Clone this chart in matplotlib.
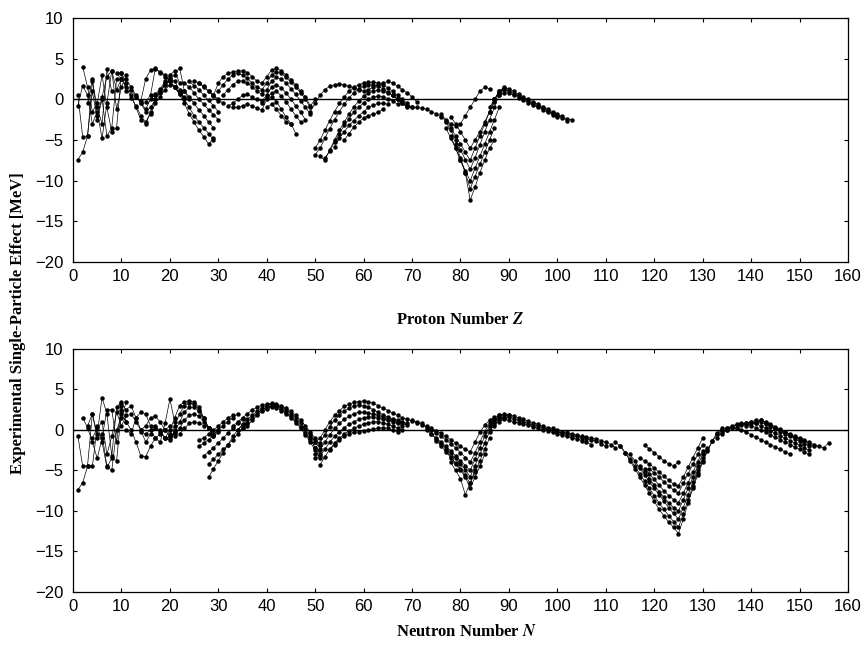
#!/usr/bin/env python
# -*- coding: utf-8 -*-

# Experimental single-particle effect vs proton and neutron number
import matplotlib
matplotlib.use("Agg")
import matplotlib.pyplot as plt
import numpy as N

# Each chain: (first nucleon number, values in MeV at consecutive numbers)

# ---- proton number Z ----
z_light = [
    (1, [0.5, -4.6, -4.5, 2.2, -1.0, -3.0, 3.7, 1.0]),
    (1, [-7.4, -6.5, -4.5, 1.0, -2.5, 0.0, -4.5, -3.5, 2.5]),
    (2, [4.0, 1.5, -1.5, -0.5, 3.0, -1.0, -4.0, -3.5, 3.2, 1.0]),
    (1, [-0.8, 1.7, 0.5, -3.0, -1.5, -4.8, -0.5, 3.5, 1.2, 2.5]),
    (3, [-0.5, 2.5, -2.0, 0.3, 2.8, 3.5, -1.2, 1.5, 3.0]),
]
z_sd = [
    (10, [3.3, 2.0, 0.5, -1.0, -2.5, -3.0, -1.5, 0.0, 1.0, 2.0, 2.2, 1.5, 0.8]),
    (9, [3.2, 2.5, 1.5, 0.2, -0.8, -2.0, -2.8, -1.8, -0.5, 0.3, 1.2, 1.8, 1.5, 0.8]),
    (11, [2.5, 1.5, 0.5, -0.5, -1.5, -1.0, 0.0, 0.8, 1.8, 2.6, 2.2, 1.2]),
    (12, [1.2, 0.3, -0.4, -1.2, 0.0, 0.6, 1.3, 2.2, 3.0, 3.5, 2.0]),
    (15, [-0.3, 0.5, 3.8, 3.3, 2.8, 2.2, 1.5, 0.8, 0.3]),
    (13, [0.3, -0.2, 2.5, 3.6, 3.7, 3.4, 3.0, 2.3, 1.5, 0.7, 0.2]),
    (17, [0.5, 1.0, 1.8, 2.5, 3.0, 3.9, 1.0, 0.0]),
]
z_fp = [
    (21, [1.5, 0.6, -0.5, -1.8, -2.8, -3.8, -4.6, -5.5, -4.8]),
    (22, [1.0, 0.0, -1.0, -2.0, -2.8, -3.5, -4.2, -5.0]),
    (23, [1.0, 0.3, -0.5, -1.3, -2.0, -2.8, -3.5]),
    (23, [2.0, 1.5, 0.8, 0.0, -0.6, -1.3, -1.9, -2.5]),
    (24, [2.2, 1.7, 1.2, 0.5, -0.1, -0.8, -1.5]),
    (25, [2.3, 2.0, 1.5, 1.0, 0.4, -0.2]),
    (26, [2.0, 1.6, 1.0, 0.5, 0.0, -0.5]),
]
z_mid = [
    (29, [0.5, 2.0, 2.8, 3.2, 3.4, 3.5, 3.5, 3.3, 2.8, 2.2, 2.0, 2.8, 3.6,
          3.8, 3.5, 3.0, 2.4, 1.8, 1.0, 0.3, -0.8, 0.0]),
    (30, [1.0, 1.8, 2.5, 3.0, 3.2, 3.0, 2.6, 2.0, 1.5, 1.2, 2.0, 3.0, 3.4,
          3.2, 2.7, 2.1, 1.5, 0.8, 0.0, -1.0]),
    (31, [0.5, 1.2, 1.8, 2.2, 2.3, 2.0, 1.5, 1.0, 0.6, 1.2, 2.2, 2.7, 2.5,
          2.0, 1.3, 0.6, -0.2, -1.0, -1.8]),
    (32, [-0.8, -0.5, 0.0, 0.5, 0.6, 0.3, 0.0, -0.2, 0.5, 1.5, 1.8, 1.4, 0.8,
          0.0, -0.8, -1.6, -2.5]),
    (33, [-1.0, -1.0, -0.8, -0.6, -0.8, -1.1, -1.3, 0.0, 0.8, 1.0, 0.4, -0.3,
          -1.2, -2.0, -2.8]),
    (39, [-0.5, 0.2, 0.3, -0.3, -1.2, -2.2, -3.0, -4.2]),
    (40, [-1.0, -0.6, -1.2, -2.0, -2.8, -3.0]),
]
z_sn = [
    (50, [-6.0, -5.0, -3.8, -2.6, -1.5, -0.5, 0.3, 1.0, 1.5, 1.8, 2.0, 2.1,
          2.1, 2.0, 1.8, 1.4, 1.0, 0.5, 0.0, -0.5, -1.0]),
    (50, [-6.8, -6.0, -4.8, -3.6, -2.5, -1.5, -0.6, 0.2, 0.8, 1.3, 1.6, 1.8,
          1.8, 1.6, 1.3, 0.9, 0.5, 0.0, -0.5, -1.0]),
    (51, [-7.0, -7.5, -6.2, -5.0, -3.8, -2.8, -1.8, -0.9, -0.2, 0.4, 0.8, 1.0,
          1.1, 1.0, 0.8, 0.5, 0.1, -0.3, -0.8]),
    (52, [-7.2, -6.4, -5.2, -4.2, -3.2, -2.4, -1.6, -1.0, -0.4, 0.0, 0.3, 0.4,
          0.3, 0.1, -0.2, -0.6]),
    (54, [-5.8, -4.8, -4.0, -3.2, -2.6, -2.0, -1.5, -1.0, -0.7, -0.5, -0.5, -0.6]),
    (49, [-1.5, -0.5, 0.5, 1.2, 1.6, 1.8, 1.9, 1.8, 1.6, 1.4, 1.2, 1.0, 1.2,
          1.5, 1.8, 2.0, 2.2, 2.0, 1.6, 1.2, 0.8, 0.3, -0.3]),
    (56, [-5.0, -4.2, -3.4, -2.8, -2.3, -2.0, -1.8, -1.6, -1.2]),
]
z_pb = [
    (66, [0.5, 0.0, -0.5, -0.8, -1.0, -1.0, -1.1, -1.2, -1.5, -1.8, -2.2, -2.6,
          -3.0, -3.3, -3.0, -2.0, -1.0, 0.0, 1.0, 1.5, 1.3]),
    (76, [-1.8, -2.5, -3.5, -4.5, -5.5, -6.5, -7.5, -6.0, -4.5, -3.0, -1.5, 0.0, 1.0, 1.3]),
    (77, [-2.8, -3.8, -5.0, -6.2, -7.4, -8.6, -7.2, -5.6, -4.0, -2.5, -1.0, 0.5]),
    (77, [-3.5, -4.8, -6.0, -7.5, -8.8, -10.0, -8.5, -7.0, -5.5, -4.0, -2.5, -1.0]),
    (78, [-4.5, -6.0, -7.5, -9.0, -11.0, -9.5, -8.0, -6.5, -5.0, -3.5]),
    (79, [-5.5, -7.2, -9.0, -12.4, -10.8, -9.0, -7.5, -6.0, -5.0]),
    (78, [-2.2, -3.0, -4.0, -5.0, -6.0, -5.0, -4.0, -2.8, -1.5, -0.3, 0.8, 1.4]),
]
z_heavy = [
    (86, [-1.0, 0.0, 1.0, 1.5, 1.3, 1.0, 0.6, 0.3, 0.0, -0.3, -0.6, -0.9,
          -1.2, -1.5, -1.8, -2.1, -2.4, -2.5]),
    (87, [0.0, 0.8, 1.2, 1.0, 0.7, 0.4, 0.1, -0.2, -0.5, -0.8, -1.1, -1.4,
          -1.7, -2.0, -2.3, -2.6]),
    (88, [0.5, 0.8, 0.8, 0.5, 0.2, -0.1, -0.4, -0.7, -1.0, -1.3, -1.6, -1.9, -2.2]),
]

# ---- neutron number N ----
n_light = [
    (1, [-7.4, -6.5, -4.5, -4.5, 0.5, -1.5, -4.6, -3.5, -3.8, 2.5]),
    (1, [-0.7, -4.5, -4.4, 2.0, -0.5, 4.0, 2.0, -3.2, 2.8, 3.5]),
    (2, [1.5, 0.3, -1.5, -3.5, -1.0, 2.5, 2.5, -1.5, 3.0, 1.0]),
    (3, [0.5, 2.0, -1.0, -0.5, -4.5, -5.0, 0.0, 1.5, 3.5]),
    (4, [-1.0, 0.2, 1.0, -3.0, -0.8, 2.2, 0.5, 1.8]),
]
n_sd = [
    (10, [2.0, 1.0, 0.0, -1.5, -3.2, -3.3, -2.0, -1.0, -0.5, 0.0, 0.5]),
    (10, [3.2, 2.5, 3.0, 1.5, 0.0, -1.5, -0.5, 0.3, 0.0, -1.0, -0.8]),
    (11, [0.0, -0.5, 1.5, 2.2, 2.0, 0.5, 0.5, -0.3, -1.0, -1.2, 0.0]),
    (12, [2.0, 1.0, 0.0, 0.5, 1.5, 1.7, 1.0, 0.0, -0.8, -0.5]),
    (14, [-0.3, -0.5, 0.0, -1.0, -1.5, 0.8, 3.8, 1.0]),
]
n_fp = [
    (19, [-1.0, 0.0, 1.5, 3.0, 3.5, 3.6, 3.5, 2.8, 1.5, 0.2, -0.5, 0.0]),
    (20, [-0.5, 0.5, 2.0, 3.0, 3.3, 3.2, 2.5, 1.5, 0.2, -0.8, -0.3]),
    (20, [-1.0, -0.3, 1.0, 2.2, 2.8, 2.8, 2.3, 1.4, 0.3, -0.8]),
    (21, [-0.8, 0.2, 1.2, 1.8, 2.0, 1.7, 1.0, 0.2]),
    (22, [-0.5, 0.2, 0.8, 1.0, 0.9, 0.5]),
    (26, [-1.2, -1.0, -0.5, 0.0, 0.5, 1.0, 1.5, 1.8]),
    (26, [-2.0, -1.6, -1.2, -0.6, 0.0, 0.5, 1.0, 1.5, 2.0]),
    (27, [-3.2, -2.7, -2.2, -1.6, -1.0, -0.4, 0.2, 0.8, 1.3]),
    (28, [-4.2, -3.6, -3.0, -2.4, -1.8, -1.2, -0.5, 0.2, 0.8]),
    (28, [-5.8, -4.8, -3.8, -2.8, -1.8, -0.8, 0.0, 0.6]),
]
n_mid = [
    (33, [0.5, 1.0, 1.5, 2.0, 2.5, 2.8, 3.1, 3.2, 3.3, 3.2, 3.0, 2.7, 2.3,
          1.8, 1.2, 0.5, -0.3, -1.0, -1.8]),
    (34, [0.0, 0.7, 1.3, 1.8, 2.3, 2.7, 3.0, 3.2, 3.1, 2.8, 2.5, 2.0, 1.5,
          0.8, 0.1, -0.7, -1.5, -2.3]),
    (35, [0.2, 0.9, 1.5, 2.0, 2.5, 2.8, 3.0, 2.9, 2.6, 2.2, 1.7, 1.1, 0.4,
          -0.4, -1.2, -2.2, -3.0]),
    (36, [0.5, 1.2, 1.8, 2.3, 2.6, 2.8, 2.7, 2.4, 2.0, 1.5, 0.9, 0.2, -0.6,
          -1.5, -2.5, -3.5]),
]
n_sn = [
    (49, [-0.5, -1.5, -1.0, 0.0, 1.0, 1.8, 2.4, 2.9, 3.2, 3.4, 3.5, 3.6, 3.5,
          3.3, 3.0, 2.7, 2.4, 2.1, 1.8, 1.5, 1.3, 1.1, 0.9]),
    (49, [-1.0, -2.2, -1.6, -0.6, 0.4, 1.2, 1.8, 2.3, 2.7, 3.0, 3.1, 3.0, 2.8,
          2.5, 2.2, 1.9, 1.6, 1.4, 1.2, 1.0, 0.8]),
    (50, [-3.0, -2.5, -1.5, -0.6, 0.2, 0.8, 1.3, 1.7, 2.0, 2.2, 2.2, 2.1, 2.0,
          1.8, 1.6, 1.4, 1.2, 1.0, 0.8, 0.6]),
    (50, [-3.5, -3.2, -2.4, -1.5, -0.8, -0.2, 0.3, 0.7, 1.0, 1.3, 1.5, 1.6,
          1.6, 1.5, 1.4, 1.2, 1.0, 0.8, 0.5]),
    (51, [-4.3, -3.3, -2.4, -1.6, -1.0, -0.5, -0.1, 0.2, 0.5, 0.7, 0.9, 1.0,
          1.0, 0.9, 0.7, 0.5, 0.2, 0.0]),
    (53, [-2.5, -1.8, -1.2, -0.8, -0.5, -0.3, -0.2, -0.1, 0.0, 0.1, 0.2, 0.3,
          0.2, 0.0, -0.2]),
]
n_82 = [
    (70, [1.2, 1.0, 0.8, 0.5, 0.2, -0.1, -0.4, -0.8, -1.2, -1.6, -2.0, -2.4,
          -2.7, -1.5, -0.3, 0.6, 1.2, 1.6, 1.8, 1.9, 1.8]),
    (72, [0.6, 0.3, 0.0, -0.4, -0.8, -1.2, -1.7, -2.2, -2.8, -3.4, -4.0, -2.8,
          -1.5, -0.2, 0.8, 1.3, 1.6, 1.5]),
    (73, [0.0, -0.5, -1.0, -1.5, -2.0, -2.6, -3.2, -3.8, -4.4, -5.0, -3.6,
          -2.2, -0.8, 0.5, 1.1, 1.3]),
    (74, [-0.5, -1.1, -1.7, -2.3, -2.9, -3.5, -4.2, -4.9, -5.8, -4.4, -3.0,
          -1.6, -0.2, 0.7]),
    (75, [-1.3, -2.0, -2.7, -3.4, -4.1, -4.8, -5.6, -6.6, -5.2, -3.8, -2.4, -1.0]),
    (77, [-2.5, -3.3, -4.2, -5.0, -5.8, -7.2, -5.8, -4.5, -3.0]),
    (78, [-4.0, -5.0, -6.0, -8.0, -6.5, -5.0]),
]
n_rare = [
    (86, [0.0, 1.0, 1.8, 2.0, 1.9, 1.7, 1.5, 1.3, 1.1, 0.9, 0.7, 0.5, 0.3,
          0.2, 0.0, -0.2, -0.3, -0.5, -0.6, -0.8, -0.9, -1.0, -1.1, -1.3,
          -1.5, -1.8, -2.2]),
    (87, [0.5, 1.3, 1.6, 1.6, 1.4, 1.2, 1.0, 0.8, 0.6, 0.5, 0.3, 0.1, 0.0,
          -0.2, -0.4, -0.5, -0.7, -0.8, -1.0, -1.1, -1.2, -1.4, -1.7, -2.0]),
    (88, [1.0, 1.3, 1.2, 1.0, 0.9, 0.7, 0.6, 0.4, 0.2, 0.0, -0.1, -0.3,
          -0.5, -0.6, -0.8, -1.0, -1.1, -1.3, -1.5, -1.8]),
]
n_126 = [
    (112, [-1.5, -2.0, -2.8, -3.8, -4.8, -5.8, -6.8, -7.8, -8.8, -9.8, -10.6,
           -11.4, -12.0, -12.8, -11.0, -9.0, -7.2, -5.5, -4.0, -2.6, -1.4,
           -0.5, 0.0, 0.3]),
    (113, [-2.0, -2.8, -3.6, -4.5, -5.4, -6.3, -7.2, -8.1, -9.0, -9.8, -10.6,
           -11.3, -12.0, -10.4, -8.6, -6.9, -5.3, -3.8, -2.5, -1.3, -0.4, 0.2]),
    (115, [-3.0, -3.8, -4.7, -5.5, -6.4, -7.2, -8.0, -8.8, -9.6, -10.3, -11.0,
           -9.6, -8.0, -6.4, -4.9, -3.5, -2.2]),
    (117, [-4.5, -5.2, -6.0, -6.8, -7.6, -8.3, -9.0, -9.6, -10.0, -8.6, -7.2,
           -5.8, -4.4, -3.0]),
    (118, [-4.8, -5.4, -6.1, -6.8, -7.5, -8.1, -8.6, -9.0, -7.8, -6.5, -5.2,
           -3.9, -2.6]),
    (119, [-4.8, -5.3, -5.8, -6.4, -6.9, -7.4, -7.8, -6.6, -5.4, -4.2, -3.0, -1.8]),
    (117, [-3.5, -3.8, -4.2, -4.7, -5.2, -5.7, -6.2, -6.7, -6.9, -5.8, -4.6,
           -3.4, -2.2, -1.0]),
    (118, [-1.9, -2.3, -2.8, -3.3, -3.8, -4.2, -4.4, -4.0]),
]
n_act = [
    (133, [-1.0, -0.3, 0.2, 0.5, 0.7, 0.8, 0.7, 0.5, 0.3, 0.0, -0.3, -0.6,
           -0.9, -1.2, -1.5, -1.8, -2.1, -2.4, -2.7, -3.0]),
    (135, [0.0, 0.4, 0.6, 0.7, 0.9, 1.0, 0.8, 0.5, 0.2, -0.1, -0.4, -0.7,
           -1.0, -1.3, -1.6, -1.9, -2.2, -2.5]),
    (137, [0.3, 0.6, 0.8, 1.0, 1.2, 1.0, 0.7, 0.4, 0.1, -0.2, -0.5, -0.8,
           -1.1, -1.4, -1.7, -2.0]),
    (139, [0.5, 0.8, 1.0, 1.2, 0.9, 0.6, 0.3, 0.0, -0.3, -0.6, -0.9, -1.1,
           -1.4, -1.7, -2.0]),
    (141, [0.8, 1.2, 1.0, 0.7, 0.4, 0.1, -0.2, -0.5, -0.7, -1.0, -1.2, -1.5,
           -1.8, -2.0, -2.2, -1.6]),
    (134, [-0.5, 0.0, 0.3, 0.2, 0.0, -0.3, -0.6, -0.9, -1.2, -1.5, -1.8,
           -2.1, -2.4, -2.7, -3.0]),
]

proton_groups = [z_light, z_sd, z_fp, z_mid, z_sn, z_pb, z_heavy]
neutron_groups = [n_light, n_sd, n_fp, n_mid, n_sn, n_82, n_rare, n_126, n_act]

plt.rcParams['font.family'] = ['Liberation Sans', 'DejaVu Sans']
plt.rcParams['mathtext.fontset'] = 'stix'
serif_bold = dict(family='Liberation Serif', weight='bold', size=12)


def draw_panel(ax, groups):
    ax.axhline(0, color='black', lw=1.0, zorder=1)
    for group in groups:
        for start, vals in group:
            x = N.arange(start, start + len(vals))
            ax.plot(x, vals, color='black', lw=0.5, marker='o', ms=2.2,
                    mfc='black', mec='black', zorder=2)
    ax.set_xlim(0, 160)
    ax.set_ylim(-20, 10)
    ax.set_xticks(N.arange(0, 161, 10))
    ax.set_yticks(N.arange(-20, 11, 5))
    ax.tick_params(direction='in', top=True, right=True, length=3,
                   labelsize=12, width=0.8)
    ax.tick_params(axis='y', pad=7)
    ax.tick_params(axis='x', pad=5)
    for sp in ax.spines.values():
        sp.set_linewidth(0.9)


fig = plt.figure(figsize=(8.62, 6.46), dpi=100)
ax1 = fig.add_axes([0.0847, 0.5944, 0.899, 0.3777])
ax2 = fig.add_axes([0.0847, 0.0836, 0.899, 0.3762])

draw_panel(ax1, proton_groups)
draw_panel(ax2, neutron_groups)

# axis titles placed as in the original figure
fig.text(0.534, 1 - 320 / 646, r'Proton Number $\boldsymbol{Z}$',
         ha='center', va='center', fontdict=serif_bold)
fig.text(0.541, 1 - 632 / 646, r'Neutron Number $\boldsymbol{N}$',
         ha='center', va='center', fontdict=serif_bold)
fig.text(0.021, 0.5, 'Experimental Single-Particle Effect [MeV]',
         rotation=90, ha='center', va='center', fontdict=serif_bold)

fig.savefig('out.png', dpi=100)
